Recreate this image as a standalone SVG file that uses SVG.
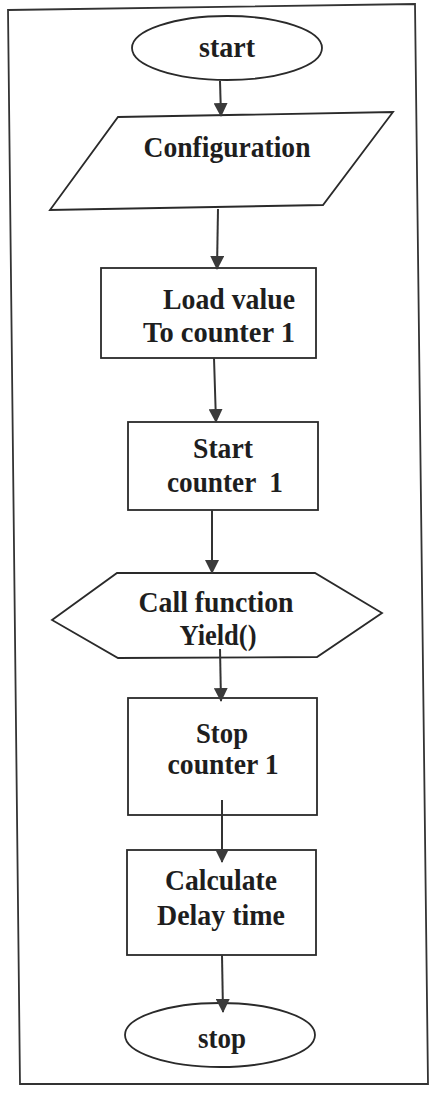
<svg xmlns="http://www.w3.org/2000/svg" width="430" height="1094" viewBox="0 0 430 1094">
<style>
.shape{fill:#ffffff;stroke:#2a2a2a;stroke-width:1.8}
.lbl{font-family:"Liberation Serif","Times New Roman",serif;font-weight:bold;font-size:29px;fill:#1e1e1e;text-anchor:middle}
.conn{stroke:#333333;stroke-width:2;fill:none}
</style>
<defs>
<marker id="arr" markerUnits="userSpaceOnUse" markerWidth="14" markerHeight="14" viewBox="0 0 14 14" refX="13" refY="7" orient="auto">
<path d="M0,0 L14,7 L0,14 Z" fill="#3a3a3a"/>
</marker>
</defs>
<rect width="430" height="1094" fill="#ffffff"/>
<polygon id="frame" points="8,10 415,4 428,1084 20,1084" fill="none" stroke="#333" stroke-width="1.8"/>
<g id="start">
<ellipse class="shape" cx="227" cy="48" rx="95" ry="32"/>
<text class="lbl" x="227" y="57" textLength="56" lengthAdjust="spacingAndGlyphs">start</text>
</g>
<g id="configuration">
<polygon class="shape" points="118,117 393,112 323,205 50,210"/>
<text class="lbl" x="227" y="157" textLength="167" lengthAdjust="spacingAndGlyphs">Configuration</text>
</g>
<g id="load">
<rect class="shape" x="101" y="268" width="215" height="90"/>
<text class="lbl" x="229" y="309" textLength="132" lengthAdjust="spacingAndGlyphs">Load value</text>
<text class="lbl" x="219" y="342" textLength="152" lengthAdjust="spacingAndGlyphs">To counter 1</text>
</g>
<g id="startcounter">
<rect class="shape" x="128" y="422" width="190" height="88"/>
<text class="lbl" x="223" y="458" textLength="60" lengthAdjust="spacingAndGlyphs">Start</text>
<text class="lbl" x="225" y="492" textLength="116" lengthAdjust="spacingAndGlyphs" xml:space="preserve">counter  1</text>
</g>
<g id="call">
<polygon class="shape" points="52,620 117,573 315,573 382,613 317,657 118,658"/>
<text class="lbl" x="216" y="612" textLength="155" lengthAdjust="spacingAndGlyphs">Call function</text>
<text class="lbl" x="218" y="645" textLength="77" lengthAdjust="spacingAndGlyphs">Yield()</text>
</g>
<g id="stopcounter">
<rect class="shape" x="128" y="698" width="189" height="117"/>
<text class="lbl" x="222" y="743" textLength="52" lengthAdjust="spacingAndGlyphs">Stop</text>
<text class="lbl" x="223" y="774" textLength="111" lengthAdjust="spacingAndGlyphs">counter 1</text>
</g>
<g id="calculate">
<rect class="shape" x="127" y="850" width="189" height="105"/>
<text class="lbl" x="221" y="890" textLength="112" lengthAdjust="spacingAndGlyphs">Calculate</text>
<text class="lbl" x="221" y="925" textLength="128" lengthAdjust="spacingAndGlyphs">Delay time</text>
</g>
<g id="stop">
<ellipse class="shape" cx="220" cy="1035" rx="95" ry="32"/>
<text class="lbl" x="222" y="1048" textLength="48" lengthAdjust="spacingAndGlyphs">stop</text>
</g>
<g id="connectors">
<line class="conn" x1="220" y1="81" x2="221" y2="116" marker-end="url(#arr)"/>
<line class="conn" x1="218" y1="209" x2="217" y2="269" marker-end="url(#arr)"/>
<line class="conn" x1="214" y1="358" x2="216" y2="422" marker-end="url(#arr)"/>
<line class="conn" x1="212" y1="510" x2="212" y2="573" marker-end="url(#arr)"/>
<line class="conn" x1="220" y1="649" x2="221" y2="701" marker-end="url(#arr)"/>
<line class="conn" x1="222" y1="800" x2="222" y2="862" marker-end="url(#arr)"/>
<line class="conn" x1="222" y1="955" x2="223" y2="1012" marker-end="url(#arr)"/>
</g>
</svg>
